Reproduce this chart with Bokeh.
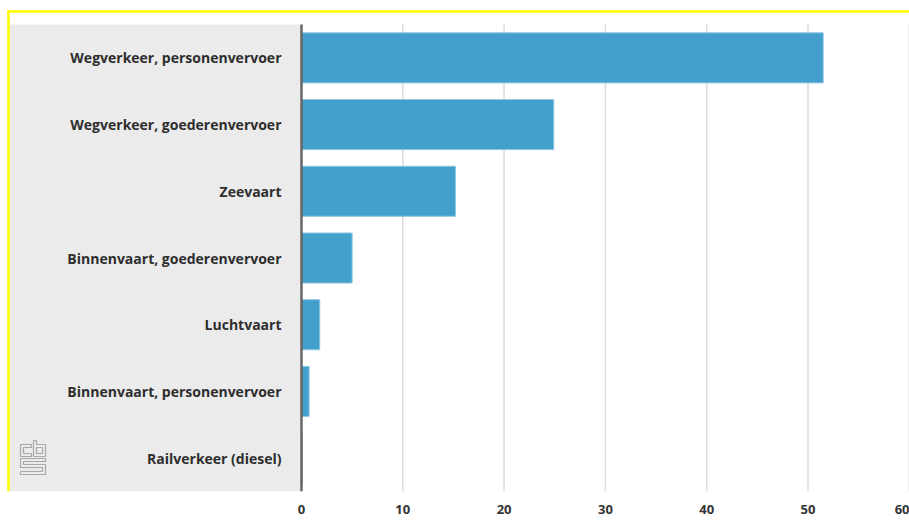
from bokeh.plotting import figure
from bokeh.models import Range1d, FixedTicker, BoxAnnotation, ColumnDataSource
from bokeh.core.properties import value
from bokeh.embed import file_html
from bokeh.resources import INLINE

categories = [
    "Wegverkeer, personenvervoer",
    "Wegverkeer, goederenvervoer",
    "Zeevaart",
    "Binnenvaart, goederenvervoer",
    "Luchtvaart",
    "Binnenvaart, personenvervoer",
    "Railverkeer (diesel)",
]
values = [51.5, 24.9, 15.2, 5.0, 1.8, 0.75, 0.1]
ticks = [0, 10, 20, 30, 40, 50, 60]

W, H = 909, 520
frame_h = 491
panel_top_px = 24
zero_px = 301
px_per_unit = 10.13

n = len(categories)
row_px = (frame_h - panel_top_px) / n
y_bottom = n - 0.5
y_top = -0.5 - panel_top_px / row_px
x_start = -zero_px / px_per_unit
x_end = (W - zero_px) / px_per_unit


def px_x(px):
    return x_start + px / px_per_unit


def px_y(py):
    return y_top + py / row_px


p = figure(width=W, height=H, output_backend="svg", toolbar_location=None,
           x_range=Range1d(x_start, x_end), y_range=Range1d(y_bottom, y_top),
           min_border_left=0, min_border_right=0, min_border_top=0, min_border_bottom=H - frame_h)
p.outline_line_color = None
p.background_fill_color = "white"
p.border_fill_color = "white"
p.grid.visible = False
p.yaxis.visible = False

xa = p.xaxis[0]
xa.ticker = FixedTicker(ticks=ticks)
xa.axis_line_color = None
xa.major_tick_line_color = None
xa.minor_tick_line_color = None
xa.major_tick_out = 0
xa.major_tick_in = 0
xa.major_label_standoff = 13
xa.major_label_text_font = "Open Sans"
xa.major_label_text_font_style = "bold"
xa.major_label_text_font_size = "13px"
xa.major_label_text_color = "#333333"

# grey label panel
p.add_layout(BoxAnnotation(left=px_x(9), right=0, top=-0.5, bottom=y_bottom, fill_color="#ebebeb",
                           fill_alpha=1, line_color=None, level="underlay"))

# grid lines (only within the category band)
grid_x = [t for t in ticks if t > 0]
p.segment(x0=grid_x, x1=grid_x, y0=[-0.5] * len(grid_x), y1=[y_bottom] * len(grid_x),
          line_color="#dcdcdc", line_width=1.5)

idx = list(range(n))
src = ColumnDataSource(dict(y=idx, v=values, cat=categories, z=[0] * n))
p.hbar(y="y", left="z", right="v", height=0.75, source=src,
       fill_color="#43a0cc", line_color="#8ec6e2", line_width=1)

# zero axis line
p.segment(x0=[0], x1=[0], y0=[-0.5], y1=[y_bottom], line_color="#666666", line_width=2.5)

p.text(x="z", y="y", text="cat", source=src, x_offset=-20,
       text_align="right", text_baseline="middle",
       text_font=value("Open Sans"), text_font_style="bold",
       text_font_size="14px", text_color="#2e2e2e")

# yellow frame lines (top and left)
p.segment(x0=[px_x(7)], x1=[x_end], y0=[px_y(11)], y1=[px_y(11)], line_color="#ffff00", line_width=2.5)
p.segment(x0=[px_x(8)], x1=[px_x(8)], y0=[px_y(10)], y1=[y_bottom], line_color="#ffff00", line_width=2.5)

# cbs logo (decorative outline, pixel-based)
logo = [
    [(31, 444), (20, 444), (20, 456), (31, 456), (31, 453), (23, 453), (23, 447), (31, 447), (31, 444)],
    [(33, 440), (36, 440), (36, 444), (45, 444), (45, 456), (33, 456), (33, 440)],
    [(36, 447), (42, 447), (42, 453), (36, 453), (36, 447)],
    [(20, 458), (45, 458), (45, 461), (23, 461), (23, 464), (45, 464), (45, 474), (20, 474),
     (20, 471), (42, 471), (42, 467), (20, 467), (20, 458)],
]
p.multi_line(xs=[[px_x(a) for a, b in s] for s in logo], ys=[[px_y(b) for a, b in s] for s in logo],
             line_color="#a8a8a8", line_width=1.2)

open("out.html", "w").write(file_html(p, INLINE))
